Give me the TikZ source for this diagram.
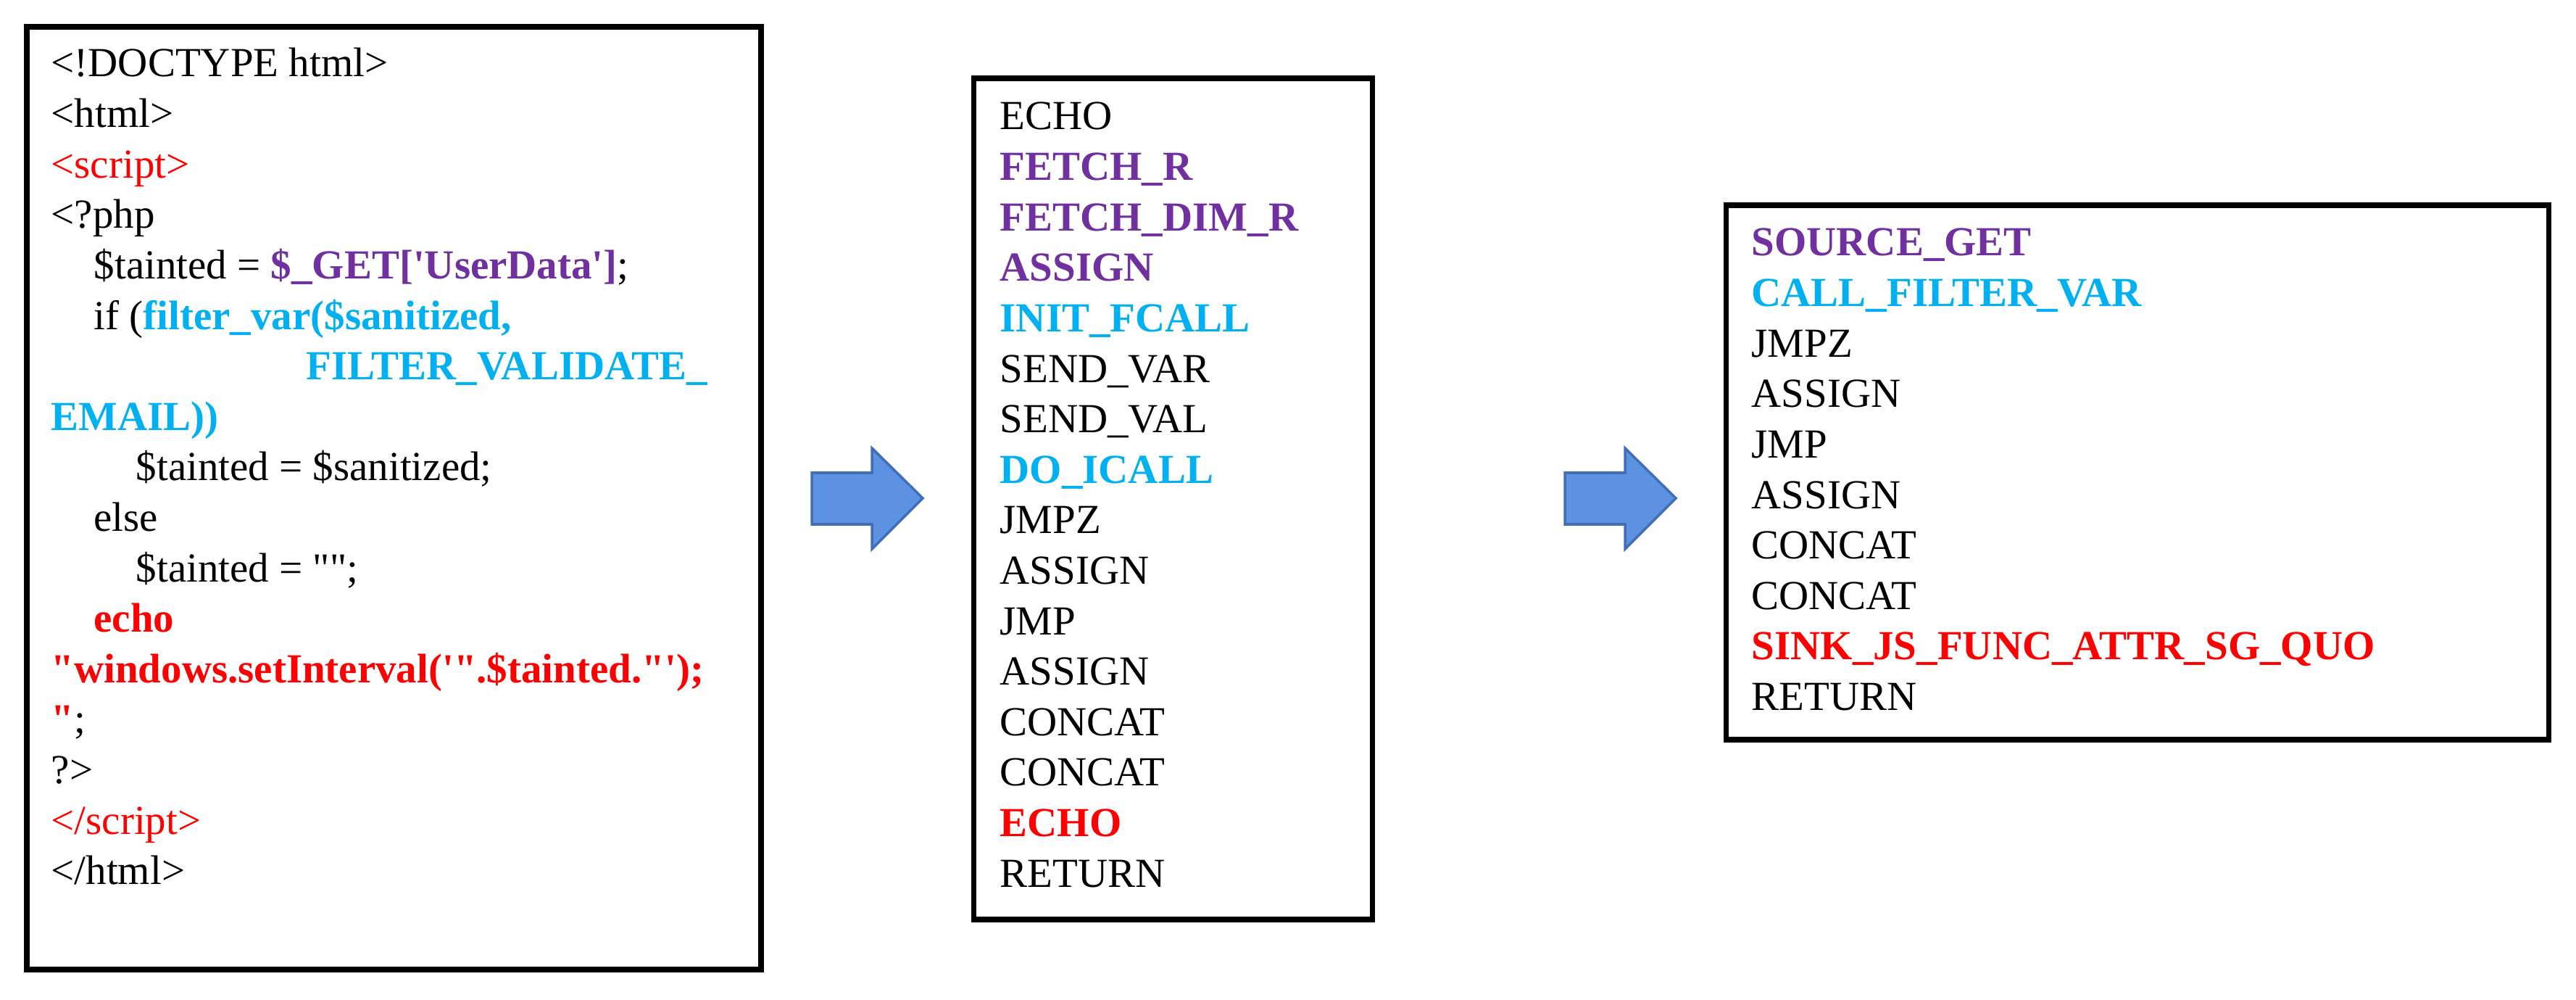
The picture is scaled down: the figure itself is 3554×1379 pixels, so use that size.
\documentclass[tikz,border=0pt]{standalone}
\usepackage{fontspec}
\setmainfont{Liberation Serif}[Ligatures=TeXOff]

\definecolor{srcpurple}{HTML}{7030A0}
\definecolor{filtcyan}{HTML}{00B0F0}
\definecolor{sinkred}{HTML}{FF0000}
\definecolor{arrowblue}{RGB}{93,146,226}
\definecolor{arrowedge}{RGB}{66,110,182}

\newcommand\codesize{\fontsize{16.2pt}{19.8pt}\selectfont}
\newcommand\srctext[1]{\textcolor{srcpurple}{\bfseries #1}}
\newcommand\filttext[1]{\textcolor{filtcyan}{\bfseries #1}}
\newcommand\sinktext[1]{\textcolor{sinkred}{\bfseries #1}}

\tikzset{
  codebox/.style={draw=black, line width=2pt},
  codeline/.style={anchor=base west, inner sep=0pt, font=\codesize},
  plainop/.style={},
  srcop/.style={text=srcpurple, font=\codesize\bfseries},
  filtop/.style={text=filtcyan, font=\codesize\bfseries},
  sinkop/.style={text=sinkred, font=\codesize\bfseries},
  blockarrow/.style={fill=arrowblue, draw=arrowedge, line width=1pt, line join=miter}
}

\begin{document}
\begin{tikzpicture}[x=0.01cm, y=-0.01cm]
\useasboundingbox (0,0) rectangle (3554,1379);

% php page
\draw[codebox] (37,37) rectangle (1050,1337);
\foreach \ind/\txt [count=\i] in {
    70/{<!DOCTYPE html>},
    70/{<html>},
    70/{\textcolor{sinkred}{<script>}},
    70/{<?php},
    129/{\$tainted = \srctext{\$\_GET['UserData']};},
    129/{if (\filttext{filter\_var(\$sanitized,}},
    422/{\filttext{FILTER\_VALIDATE\_}},
    70/{\filttext{EMAIL))}},
    187/{\$tainted = \$sanitized;},
    129/{else},
    187/{\$tainted = "";},
    129/{\sinktext{echo}},
    70/{\sinktext{"windows.setInterval('".\$tainted."');}},
    70/{\sinktext{"};},
    70/{?>},
    70/{\textcolor{sinkred}{</script>}},
    70/{</html>}}
  \node[codeline] (php\i) at (\ind,{106+69.6*(\i-1)}) {\txt};

% arrows
\foreach \dx in {0,1039}
  \draw[blockarrow, shift={(\dx,0)}] (1120,652) -- (1203,652) -- (1203,618)
        -- (1273,687) -- (1203,757) -- (1203,723) -- (1120,723) -- cycle;

% opcodes
\draw[codebox] (1343,108) rectangle (1893,1268);
\foreach \sty/\txt [count=\i] in {
    plainop/ECHO, srcop/FETCH\_R, srcop/FETCH\_DIM\_R, srcop/ASSIGN,
    filtop/INIT\_FCALL, plainop/SEND\_VAR, plainop/SEND\_VAL, filtop/DO\_ICALL,
    plainop/JMPZ, plainop/ASSIGN, plainop/JMP, plainop/ASSIGN,
    plainop/CONCAT, plainop/CONCAT, sinkop/ECHO, plainop/RETURN}
  \node[codeline,\sty] (ir\i) at (1379,{179+69.6*(\i-1)}) {\txt};

% tokens
\draw[codebox] (2381,283) rectangle (3516,1020);
\foreach \sty/\txt [count=\i] in {
    srcop/SOURCE\_GET, filtop/CALL\_FILTER\_VAR, plainop/JMPZ, plainop/ASSIGN,
    plainop/JMP, plainop/ASSIGN, plainop/CONCAT, plainop/CONCAT,
    sinkop/SINK\_JS\_FUNC\_ATTR\_SG\_QUO, plainop/RETURN}
  \node[codeline,\sty] (tok\i) at (2416,{353+69.6*(\i-1)}) {\txt};
\end{tikzpicture}
\end{document}
